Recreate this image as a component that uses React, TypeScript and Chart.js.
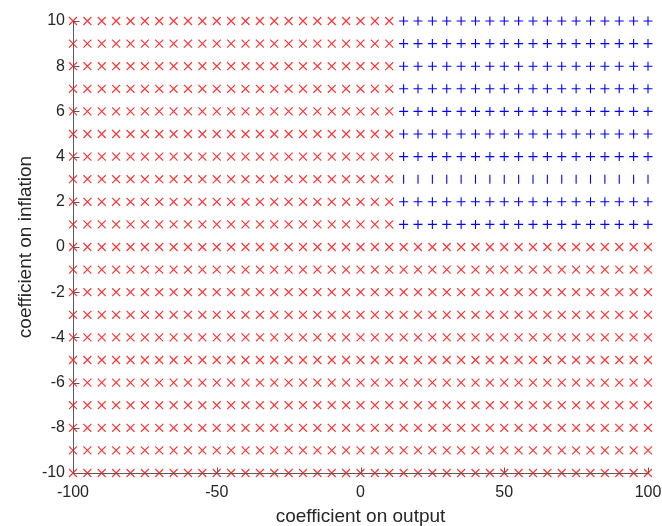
import React, { useEffect, useRef } from "react";
import { Chart, registerables } from "chart.js";

Chart.register(...registerables);

const gridX = [-100, -95, -90, -85, -80, -75, -70, -65, -60, -55, -50, -45, -40, -35, -30, -25, -20, -15, -10, -5, 0, 5, 10, 15, 20, 25, 30, 35, 40, 45, 50, 55, 60, 65, 70, 75, 80, 85, 90, 95, 100];
const gridY = [-10, -9, -8, -7, -6, -5, -4, -3, -2, -1, 0, 1, 2, 3, 4, 5, 6, 7, 8, 9, 10];
const plusX = [15, 20, 25, 30, 35, 40, 45, 50, 55, 60, 65, 70, 75, 80, 85, 90, 95, 100];
const plusRows = [1, 2, 4, 5, 6, 7, 8, 9, 10];
const barRows = [3];
const xTickValues = [-100, -50, 0, 50, 100];
const yTickValues = [-10, -8, -6, -4, -2, 0, 2, 4, 6, 8, 10];

const FONT = "'Liberation Sans', Arial, Helvetica, sans-serif";

export default function App() {
  const ref = useRef<HTMLCanvasElement | null>(null);

  useEffect(() => {
    document.body.style.margin = "0";
    const blueRows = [...plusRows, ...barRows];
    const redPts: { x: number; y: number }[] = [];
    const plusPts: { x: number; y: number }[] = [];
    const barPts: { x: number; y: number }[] = [];
    for (const y of gridY) {
      for (const x of gridX) {
        const isBlue = plusX.includes(x) && blueRows.includes(y);
        if (!isBlue) redPts.push({ x, y });
        else if (barRows.includes(y)) barPts.push({ x, y });
        else plusPts.push({ x, y });
      }
    }

    const axisPlugin = {
      id: "inwardAxes",
      afterDatasetsDraw(chart: any) {
        const { ctx, chartArea, scales } = chart;
        const xs = scales.x;
        const ys = scales.y;
        ctx.save();
        ctx.strokeStyle = "#5a5a5a";
        ctx.lineWidth = 1;
        ctx.beginPath();
        const left = Math.round(chartArea.left) + 0.5;
        const bottom = Math.round(chartArea.bottom) + 0.5;
        ctx.moveTo(left, Math.round(chartArea.top));
        ctx.lineTo(left, bottom);
        ctx.lineTo(Math.round(chartArea.right), bottom);
        for (const v of xTickValues) {
          const px = Math.round(xs.getPixelForValue(v)) + 0.5;
          ctx.moveTo(px, bottom);
          ctx.lineTo(px, bottom - 6);
        }
        for (const v of yTickValues) {
          const py = Math.round(ys.getPixelForValue(v)) + 0.5;
          ctx.moveTo(left, py);
          ctx.lineTo(left + 6, py);
        }
        ctx.stroke();
        ctx.restore();
      },
    };

    const chart = new Chart(ref.current as HTMLCanvasElement, {
      type: "scatter",
      data: {
        datasets: [
          {
            data: redPts,
            pointStyle: "crossRot",
            pointRadius: 5.6,
            borderColor: "rgba(255,0,0,0.8)",
            backgroundColor: "rgba(0,0,0,0)",
            borderWidth: 1.2,
            clip: false as any,
          },
          {
            data: plusPts,
            pointStyle: "cross",
            pointRadius: 4.5,
            borderColor: "rgb(0,0,255)",
            backgroundColor: "rgba(0,0,0,0)",
            borderWidth: 1.1,
            clip: false as any,
          },
          {
            data: barPts,
            pointStyle: "line",
            rotation: 90,
            pointRadius: 4.5,
            borderColor: "rgb(0,0,255)",
            backgroundColor: "rgba(0,0,0,0)",
            borderWidth: 1.1,
            clip: false as any,
          },
        ],
      },
      options: {
        animation: false,
        responsive: false,
        events: [],
        layout: { padding: { left: 0, top: 21, right: 14, bottom: 0 } },
        plugins: { legend: { display: false }, tooltip: { enabled: false } },
        scales: {
          x: {
            type: "linear",
            min: -100,
            max: 100,
            afterBuildTicks(scale: any) {
              scale.ticks = xTickValues.map((v) => ({ value: v }));
            },
            afterFit(scale: any) {
              scale.height = 53;
              scale.paddingLeft = 0;
              scale.paddingRight = 0;
            },
            grid: { display: false, drawTicks: false },
            border: { display: false },
            ticks: {
              color: "#262626",
              font: { family: FONT, size: 16 },
              padding: 10,
              maxRotation: 0,
            },
            title: {
              display: true,
              text: "coefficient on output",
              color: "#262626",
              font: { family: FONT, size: 19, lineHeight: 1.0 },
              padding: { top: 0, bottom: 0 },
            },
          },
          y: {
            type: "linear",
            min: -10,
            max: 10,
            afterBuildTicks(scale: any) {
              scale.ticks = yTickValues.map((v) => ({ value: v }));
            },
            afterFit(scale: any) {
              scale.width = 73;
              scale.paddingTop = 0;
              scale.paddingBottom = 0;
            },
            grid: { display: false, drawTicks: false },
            border: { display: false },
            ticks: {
              color: "#262626",
              font: { family: FONT, size: 16 },
              padding: 8,
            },
            title: {
              display: true,
              text: "coefficient on inflation",
              color: "#262626",
              font: { family: FONT, size: 19, lineHeight: 1.0 },
              padding: { top: 16, bottom: 0 },
            },
          },
        },
      },
      plugins: [axisPlugin],
    });
    return () => chart.destroy();
  }, []);

  return (
    <div style={{ width: 662, height: 526 }}>
      <canvas ref={ref} width={662} height={526} style={{ display: "block" }} />
    </div>
  );
}
